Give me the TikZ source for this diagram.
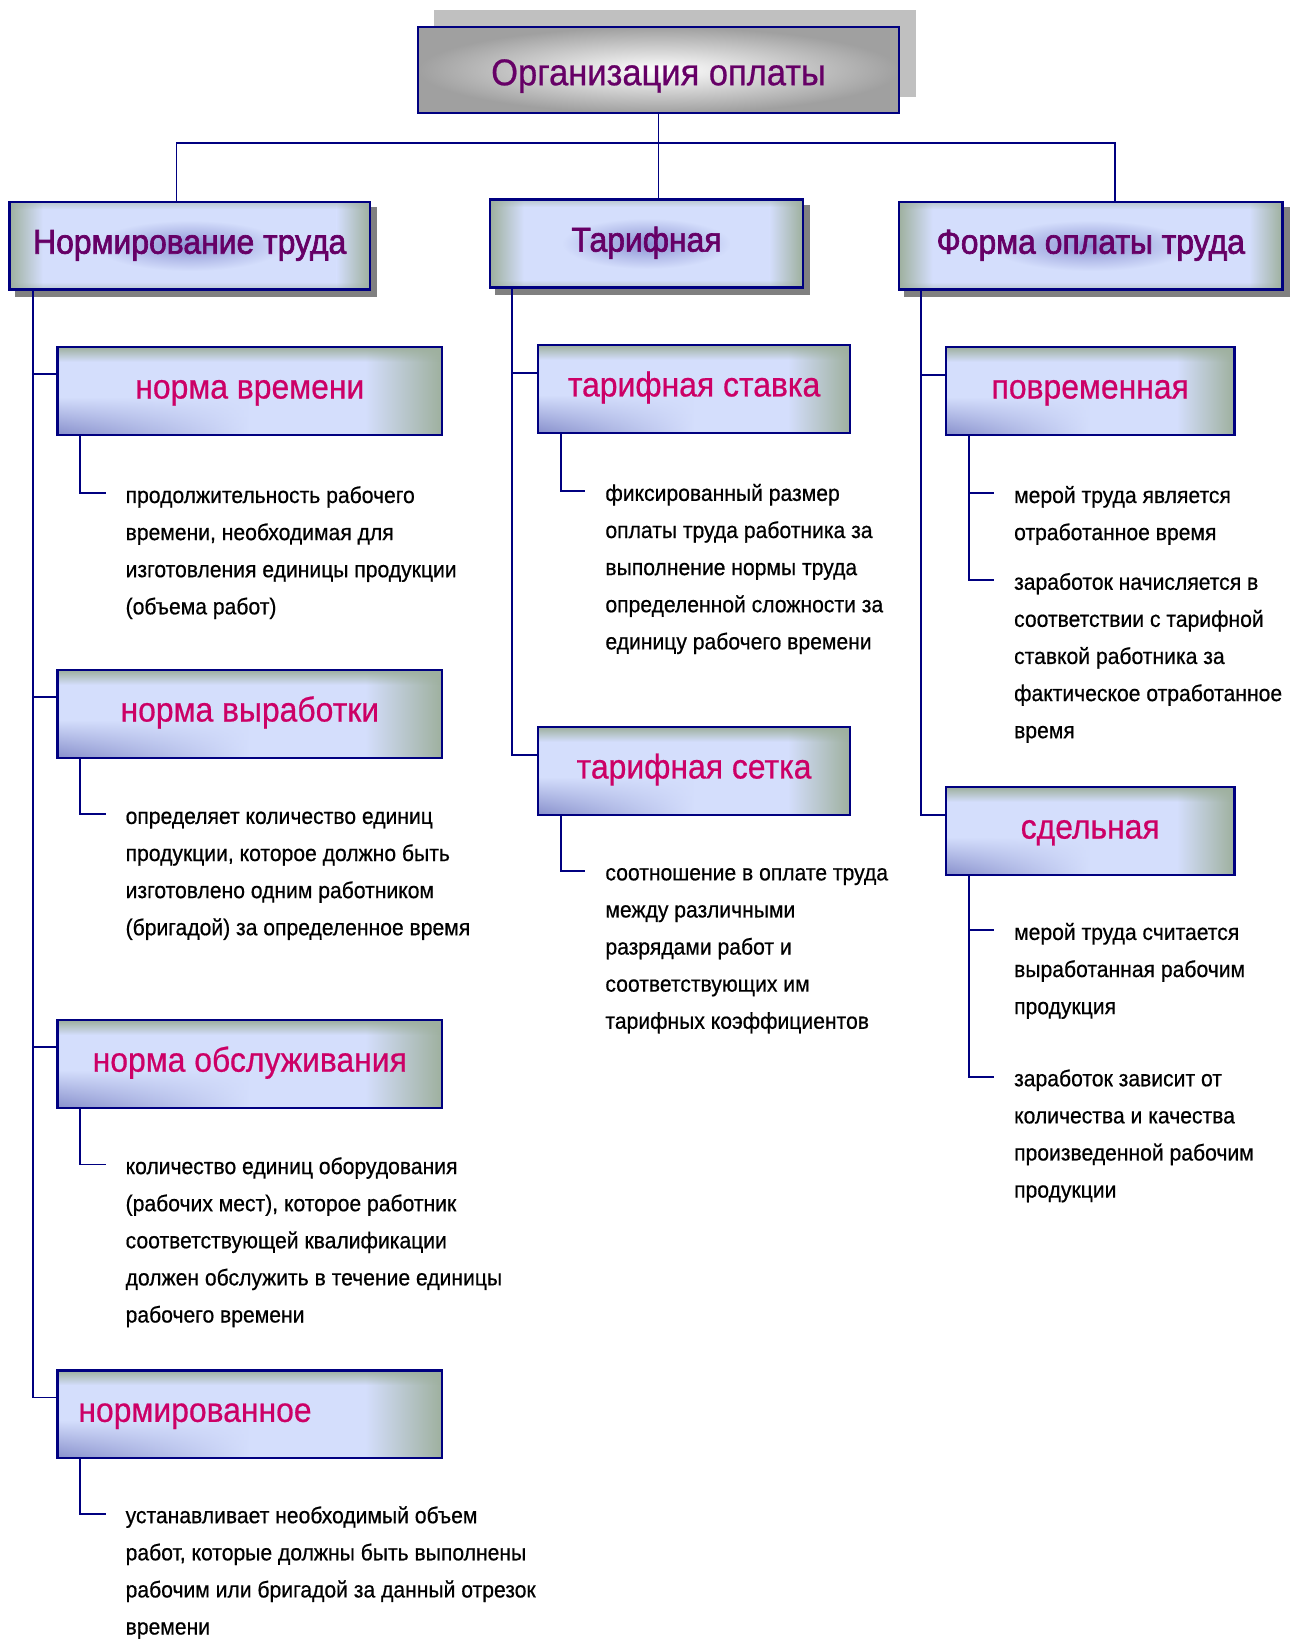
\documentclass[tikz,border=0pt]{standalone}
\usepackage{fontspec}
\setmainfont[FakeBold=0.6]{Liberation Sans}
\newfontfamily\boldish[FakeBold=2]{Liberation Sans}
\usetikzlibrary{calc,fadings,backgrounds}
\definecolor{navy}{HTML}{000080}
\definecolor{lav}{HTML}{D4DEFC}
\definecolor{gg}{HTML}{9EB09E}
\definecolor{blu}{HTML}{8890CC}
\definecolor{tpur}{HTML}{660066}
\definecolor{tmag}{HTML}{CC0066}
\definecolor{glowc}{HTML}{8C94D4}
\definecolor{tgray}{HTML}{A0A0A0}
\definecolor{sgray}{HTML}{C0C0C0}
\definecolor{shgray}{HTML}{808080}
\tikzfading[name=glowf, inner color=transparent!0, outer color=transparent!100]
\newcommand{\vs}[1]{\scalebox{1}[1.08]{#1}}
\newcommand{\dtext}[1]{\scalebox{1}[1.08]{\begin{tabular}{@{}l@{}}#1\end{tabular}}}
\tikzset{
  conn/.style={draw=navy, line width=1.8pt},
  ltop/.style={draw=navy, line width=2.2pt, inner sep=0pt, inner color=white, outer color=tgray,
    text=tpur, font=\fontsize{33}{38}\selectfont, text height=36.1, text depth=7},
  lone/.style={draw=navy, line width=2.2pt, inner sep=0pt, minimum height=84, text=tpur,
    font=\boldish\fontsize{30.5}{36}\selectfont, text height=23.4, text depth=8,
    path picture={
      \coordinate (pa) at (path picture bounding box.south west);
      \coordinate (pb) at (path picture bounding box.north east);
      \coordinate (pd) at (path picture bounding box.south east);
      \coordinate (pe) at (path picture bounding box.north west);
      \coordinate (pc) at (path picture bounding box.center);
      \fill[lav] (pa) rectangle (pb);
      \shade[left color=gg, right color=lav] (pa) rectangle ($(pe)+(32,0)$);
      \shade[left color=lav, right color=gg] ($(pd)+(-32,0)$) rectangle (pb);
      \fill[gg, opacity=0.5, path fading=south] (pe) rectangle ($(pb)+(0,7)$);
      \fill[gg, opacity=0.5, path fading=north] (pa) rectangle ($(pd)+(0,-7)$);
      \fill[glowc, path fading=glowf] ($(pc)+(-#1,-24)$) rectangle ($(pc)+(#1,24)$);
    }},
  ltwo/.style={draw=navy, line width=2.2pt, inner sep=0pt, minimum height=84, text=tmag,
    font=\fontsize{30.5}{36}\selectfont, text height=21.5, text depth=7,
    path picture={
      \coordinate (pa) at (path picture bounding box.south west);
      \coordinate (pb) at (path picture bounding box.north east);
      \coordinate (pd) at (path picture bounding box.south east);
      \coordinate (pe) at (path picture bounding box.north west);
      \fill[lav] (pa) rectangle (pb);
      \shade[left color=lav, right color=gg] ($(pa)!0.8!(pd)$) rectangle (pb);
      \shade[left color=blu, right color=lav, path fading=north] (pa) rectangle ($(pa)!0.5!(pd)+(0,-36)$);
      \fill[gg, path fading=south] (pe) rectangle ($(pb)+(0,14)$);
    }},
  desc/.style={anchor=north west, inner sep=0pt, text=black,
    font=\fontsize{20.2}{32.87}\selectfont},
}
\begin{document}
\begin{tikzpicture}[x=1pt,y=-1pt]
\useasboundingbox (0,0) rectangle (1246,1568);
% top
\fill[sgray] (415,10) rectangle (876,93);
\node[ltop, minimum width=460, minimum height=82] (top) at (630,67) {\vs{Организация оплаты}};
% level 1
\node[lone=90, minimum width=345] (A) at (181.5,235) {\vs{Нормирование труда}};
\node[lone=80, minimum width=299] (B) at (618.5,233) {\vs{Тарифная}};
\node[lone=95, minimum width=367] (C) at (1043.5,235) {\vs{Форма оплаты труда}};
\begin{scope}[on background layer]
  \foreach \n in {A,B,C}
    \fill[shgray] ([shift={(6,6)}]\n.north west) rectangle ([shift={(6,6)}]\n.south east);
\end{scope}
% level 2
\node[ltwo, minimum width=368] (A1) at (239,374) {\vs{норма времени}};
\node[ltwo, minimum width=368] (A2) at (239,683) {\vs{норма выработки}};
\node[ltwo, minimum width=368] (A3) at (239,1018) {\vs{норма обслуживания}};
\node[ltwo, minimum width=368, text width=328, align=left] (A4) at (239,1353) {\vs{нормированное}};
\node[ltwo, minimum width=299] (B1) at (664,372) {\vs{тарифная ставка}};
\node[ltwo, minimum width=299] (B2) at (664,737.5) {\vs{тарифная сетка}};
\node[ltwo, minimum width=276] (C1) at (1043,374) {\vs{повременная}};
\node[ltwo, minimum width=276] (C2) at (1043,795) {\vs{сдельная}};
% descriptions
\node[desc] (dA1) at (120,456.15) {\dtext{продолжительность рабочего\\времени, необходимая для\\изготовления единицы продукции\\(объема работ)}};
\node[desc] (dA2) at (120,763.15) {\dtext{определяет количество единиц\\продукции, которое должно быть\\изготовлено одним работником\\(бригадой) за определенное время}};
\node[desc] (dA3) at (120,1098.15) {\dtext{количество единиц оборудования\\(рабочих мест), которое работник\\соответствующей квалификации\\должен обслужить в течение единицы\\рабочего времени}};
\node[desc] (dA4) at (120,1432.15) {\dtext{устанавливает необходимый объем\\работ, которые должны быть выполнены\\рабочим или бригадой за данный отрезок\\времени}};
\node[desc] (dB1) at (579,454.15) {\dtext{фиксированный размер\\оплаты труда работника за\\выполнение нормы труда\\определенной сложности за\\единицу рабочего времени}};
\node[desc] (dB2) at (579,817.15) {\dtext{соотношение в оплате труда\\между различными\\разрядами работ и\\соответствующих им\\тарифных коэффициентов}};
\node[desc] (dC1) at (970,456.15) {\dtext{мерой труда является\\отработанное время}};
\node[desc] (dC1b) at (970,539.15) {\dtext{заработок начисляется в\\соответствии с тарифной\\ставкой работника за\\фактическое отработанное\\время}};
\node[desc] (dC2) at (970,874.15) {\dtext{мерой труда считается\\выработанная рабочим\\продукция}};
\node[desc] (dC2b) at (970,1014.15) {\dtext{заработок зависит от\\количества и качества\\произведенной рабочим\\продукции}};
% connectors
\coordinate (hb) at (629,137);
\draw[conn] (top.south) -- (top.south |- B.north);
\draw[conn] ([xshift=161]A.north west) |- (top.south |- hb) -| ([xshift=-161]C.north east);
\foreach \n in {A1,A2,A3,A4}
  \draw[conn] ([xshift=24]A.south west) |- ([yshift=-27]\n.north west);
\foreach \n in {B1,B2}
  \draw[conn] ([xshift=22]B.south west) |- ([yshift=-28]\n.north west);
\foreach \n in {C1,C2}
  \draw[conn] ([xshift=22]C.south west) |- ([yshift=-28]\n.north west);
\foreach \b/\d in {A1/dA1,A2/dA2,A3/dA3,A4/dA4,B1/dB1,B2/dB2,C1/dC1,C1/dC1b,C2/dC2,C2/dC2b}
  \draw[conn] ([xshift=23]\b.south west) |- ([xshift=-19,yshift=-15.85]\d.north west);
\end{tikzpicture}
\end{document}
